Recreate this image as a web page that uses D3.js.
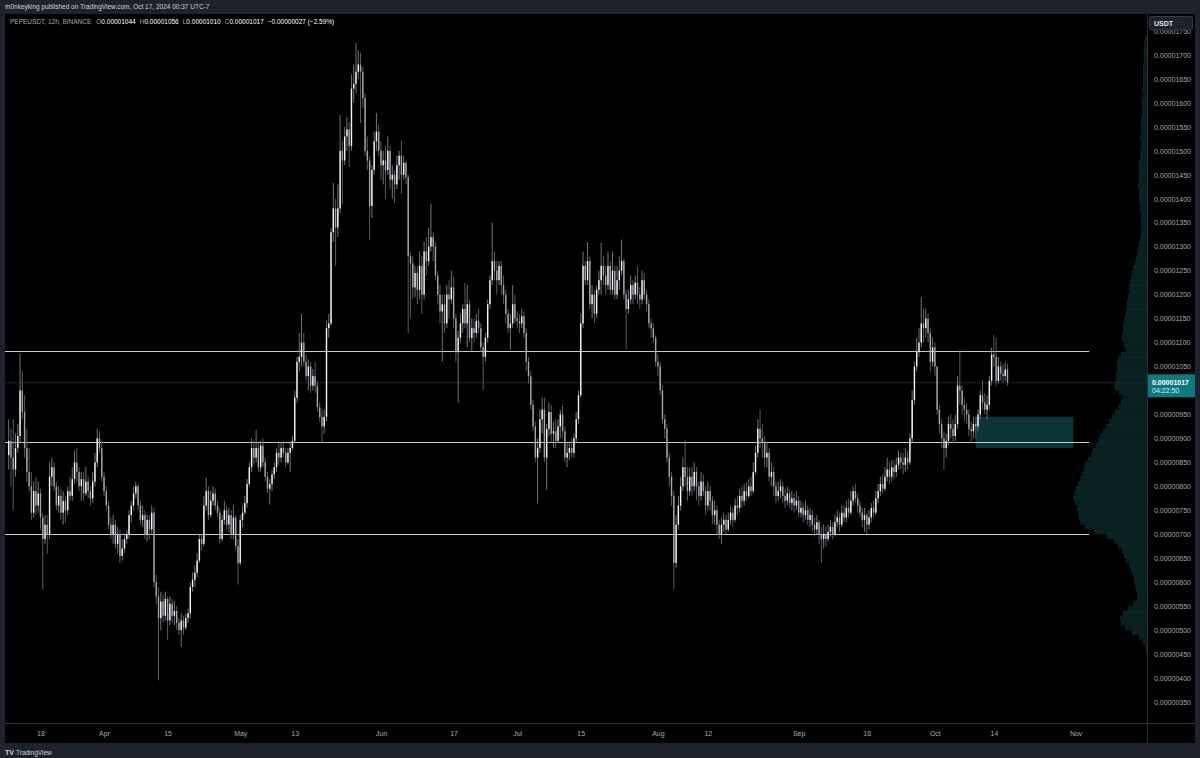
<!DOCTYPE html>
<html>
<head>
<meta charset="utf-8">
<script src="https://cdn.jsdelivr.net/npm/d3@7"></script>
<style>
body { margin: 0; background: #1e222d; }
svg { display: block; font-family: "Liberation Sans", Arial, sans-serif; }
</style>
</head>
<body>
<svg id="chart" width="1200" height="758"></svg>
<script>
// all prices in units of 1e-8 USDT, one candle every 12h starting 11 Mar 2024 00:00 UTC
const firstOpen = 865;
const closes = [
 895,860,835,880,905,1000,955,880,830,800, 745,790,760,785,735,690,720,700,820,840,
 800,760,780,745,770,750,790,780,815,850, 830,800,815,785,810,790,775,810,850,900,
 880,820,790,760,720,700,720,680,700,655, 670,690,700,740,760,785,800,760,730,740,
 700,730,710,745,600,570,525,560,530,565, 520,555,530,540,515,500,520,505,525,535,
 590,605,620,645,690,680,760,790,740,770, 785,760,745,690,730,750,720,740,700,735,
 675,640,730,745,765,805,840,880,860,880, 840,885,850,820,795,805,825,840,870,860,
 880,870,850,870,880,895,985,1060,1070,1100, 1060,1030,1050,1010,1030,1010,965,945,925,945,
 1130,1140,1330,1380,1340,1380,1500,1480,1530,1545, 1510,1630,1640,1665,1680,1665,1610,1500,1480,1385,
 1460,1520,1540,1500,1470,1480,1460,1500,1440,1450, 1430,1470,1490,1450,1475,1445,1280,1265,1215,1245,
 1210,1260,1200,1290,1270,1300,1320,1300,
 1240,1200,1165,1180,1140,1200,1190,1215,1150,1080, 1110,1140,1170,1140,1180,1110,1130,1120,1145,1130,
 1090,1070,1110,1180,1230,1270,1250,1230,1260,1220, 1200,1160,1130,1140,1180,1150,1145,
 1140,1155,1120,1060,1030,970,925,860,880,940, 960,860,920,955,910,915,895,925,950,915,
 860,870,880,870,900,940,990,1140,1260,1230, 1270,1180,1200,1160,1210,1230,
 1260,1240,1220,1260,1210,1250,1200,1230,1250,1270,
 1200,1170,1190,1220,1200,1225,1200,1190,1230,1200, 1180,1140,1130,1110,1060,1050,1000,940,920,860,
 820,780,640,720,760,800,840,820,790,820, 800,830,800,780,810,790,760,790,770,740,
 750,720,700,720,730,710,730,745,730,760, 755,780,770,790,780,800,790,830,870,920,
 900,890,860,870,820,830,800,780,790,800, 780,770,785,765,775,760,770,745,755,740,
 750,730,740,720,710,725,700,690,700,690, 705,715,700,725,735,720,745,735,755,745,
 770,790,775,760,745,730,740,720,735,755, 745,775,790,805,795,820,835,820,840,830,
 845,860,850,845,860,850,900,980,1050,1080, 1100,1140,1130,1150,1120,1060,1090,1050,960,930,
 900,880,895,930,920,905,930,1010,1000,970, 960,950,920,915,930,925,950,990,975,960,
 970,1020,1075,1070,1020,1050,1035,1030,1044,1017
];
const highs = [
 940,920,940,910,930,1078,1040,990,920,880, 830,810,820,810,795,745,740,740,850,860,
 850,810,800,795,790,780,800,820,840,875, 880,840,830,830,840,820,800,830,870,920,
 915,895,830,800,770,735,740,730,715,710, 690,700,710,750,770,800,810,805,770,760,
 750,740,740,760,755,615,590,580,575,580, 570,570,565,560,550,525,535,530,535,545,
 600,620,635,660,700,700,780,818,800,790, 800,795,770,755,740,770,760,755,750,760,
 740,690,740,760,780,815,850,900,895,918, 890,895,900,860,830,815,835,850,880,890,
 890,895,880,880,890,905,1000,1070,1120,1160, 1120,1075,1065,1060,1045,1060,1020,975,960,960,
 1145,1160,1340,1433,1400,1430,1575,1520,1550,1570, 1560,1660,1680,1725,1710,1705,1675,1620,1530,1490,
 1470,1540,1579,1555,1520,1500,1510,1530,1510,1470, 1460,1490,1500,1523,1490,1480,1450,1290,1280,1260,
 1260,1290,1280,1310,1320,1340,1390,1330,
 1310,1250,1220,1200,1200,1220,1230,1250,1240,1160, 1125,1160,1180,1225,1220,1190,1150,1150,1160,1170,
 1140,1100,1120,1190,1240,1350,1290,1270,1270,1270, 1240,1210,1170,1160,1220,1200,1165,
 1160,1170,1165,1130,1070,1040,980,935,900,960, 985,985,930,975,970,935,940,940,960,970,
 925,890,890,900,910,955,1000,1160,1290,1270, 1310,1280,1220,1210,1220,1250,
 1308,1280,1260,1290,1270,1290,1260,1260,1280,1315,
 1275,1210,1210,1240,1230,1240,1260,1215,1250,1245, 1210,1190,1150,1140,1115,1075,1060,1010,950,930,
 870,830,790,740,780,820,860,897,840,840, 840,850,840,810,830,825,800,810,800,780,
 770,760,730,735,745,740,745,760,755,775, 780,795,800,805,810,815,820,850,885,940,
 960,930,905,890,880,850,840,810,810,815, 810,795,800,795,790,785,790,780,770,765,
 770,760,755,750,735,740,730,715,720,715, 720,730,725,740,750,745,760,760,770,775,
 790,800,805,785,770,755,755,745,750,765, 770,790,805,820,825,840,860,850,855,855,
 860,875,870,870,880,875,910,1000,1060,1110, 1130,1195,1170,1170,1160,1130,1110,1100,1050,970,
 940,915,910,945,950,940,950,1030,1085,1010, 985,975,960,935,945,945,960,1000,1022,995,
 990,1030,1090,1116,1110,1070,1060,1055,1060,1056
];
const lows = [
 835,800,750,820,870,890,940,860,810,790, 730,735,740,745,710,585,680,660,690,800,
 790,750,745,730,720,725,740,770,770,805, 810,790,770,770,780,775,760,765,800,840,
 870,810,780,750,710,690,680,670,660,640, 645,660,680,690,725,750,775,750,720,715,
 690,685,690,700,590,555,395,500,515,520, 480,510,515,510,500,490,465,490,500,515,
 525,580,590,610,640,665,675,750,730,735, 760,750,735,680,685,720,710,705,690,690,
 665,595,635,715,740,755,800,830,845,850, 830,830,840,810,785,762,790,815,830,845,
 850,860,840,845,830,875,890,975,1040,1050, 1050,1020,1000,995,1000,995,955,935,890,910,
 935,1110,1135,1310,1260,1320,1370,1390,1470,1500, 1466,1500,1600,1620,1650,1558,1590,1490,1460,1314,
 1360,1450,1500,1490,1440,1430,1400,1450,1420,1400, 1391,1420,1440,1410,1440,1430,1120,1150,1190,1195,
 1180,1190,1160,1190,1240,1260,1290,1270,
 1230,1180,1140,1060,1120,1130,1150,1180,1130,1060, 975,1100,1120,1130,1090,1100,1080,1100,1110,1120,
 1080,1001,1060,1100,1170,1220,1230,1200,1220,1200, 1180,1140,1120,1085,1130,1140,1130,
 1120,1130,1110,1040,1015,960,915,850,765,870, 910,850,793,905,890,880,880,890,900,900,
 850,840,855,860,860,890,930,985,1130,1220, 1220,1170,1150,1140,1150,1200,
 1200,1220,1200,1210,1200,1200,1190,1190,1210,1240,
 1190,1085,1160,1180,1180,1190,1180,1170,1180,1190, 1165,1130,1110,1100,1050,1030,990,930,900,850,
 800,760,585,630,710,750,790,800,770,780, 780,790,770,760,770,780,740,750,750,720,
 720,700,690,680,705,700,705,720,715,725, 740,745,755,760,770,775,780,785,825,860,
 880,860,840,840,810,800,780,765,770,775, 765,755,760,755,750,745,750,735,735,725,
 730,720,715,705,695,700,680,640,670,675, 685,695,690,695,715,705,715,725,725,735,
 740,760,765,745,735,715,705,700,710,725, 735,740,765,780,785,790,810,805,810,815,
 820,835,835,825,830,835,845,890,970,1040, 1070,1090,1100,1110,1100,1040,1050,1030,950,910,
 880,835,860,885,900,890,895,920,970,950, 935,930,905,890,900,900,915,940,960,950,
 940,960,1010,1050,1010,1015,1020,1015,1020,1010
];
const startTime = Date.UTC(2024, 2, 11, 0);

// volume profile, one bin per 10 units, from 1730 down to 450
const profileTop = 1730;
const profileVol = [
 2,3,3,3,3,3,4,4,4,4, 4,5,4,5,5,5,5,6,6,6, 6,7,6,7,7,7,8,8,8,8,
 8,9,8,8,8,7,7,6,6,6, 6,6,7,8,9,10,11,12,14,15, 16,17,18,18,19,20,20,21,22,23,
 24,24,25,25,23,21,26,29,30,30, 31,31,32,32,28,24,26,29,32,35, 38,41,44,47,49,51,54,56,59,62,
 63,65,67,69,71,73,74,72,70,69, 68,67,62,53,40,33,29,25,23,21, 18,16,14,13,12,11,10,10,14,19,
 24,27,26,22,15,8,4,2,1
];

const levelPrices = [1083, 893, 700];
const zonePrices = [880, 945];
const zoneTimes = [Date.UTC(2024, 9, 10, 0), Date.UTC(2024, 9, 31, 12)];
const levelEnd = Date.UTC(2024, 10, 4, 0);
const lastPrice = 1017;

const priceTicks = [350,400,450,500,550,600,650,700,750,800,850,900,950,1000,1050,1100,
  1150,1200,1250,1300,1350,1400,1450,1500,1550,1600,1650,1700,1750];
const timeTicks = ['2024-03-18','2024-04-01','2024-04-15','2024-05-01','2024-05-13','2024-06-01',
  '2024-06-17','2024-07-01','2024-07-15','2024-08-01','2024-08-12','2024-09-01','2024-09-16',
  '2024-10-01','2024-10-14','2024-11-01'];
const timeLabels = ['18','Apr','15','May','13','Jun','17','Jul','15','Aug','12','Sep','16','Oct','14','Nov'];

const plot = {left: 5, right: 1147, top: 14, bottom: 723};

var x = d3.scaleUtc()
    .domain([new Date(startTime), new Date(Date.UTC(2024, 10, 1))])
    .range([8.7, 1075.6]);
var y = d3.scaleLinear()
    .domain([350, 1700])
    .range([702, 55]);

var candles = closes.map(function(c, i) {
    var o = i === 0 ? firstOpen : closes[i - 1];
    return {
        t: new Date(startTime + i * 12 * 3600 * 1000),
        o: o, c: c,
        h: Math.max(highs[i], o, c),
        l: Math.min(lows[i], o, c)
    };
});

var svg = d3.select('#chart');

svg.append('rect').attr('width', 1200).attr('height', 758).attr('fill', '#1e222d');
svg.append('rect')
    .attr('x', 5).attr('y', 14).attr('width', 1190).attr('height', 729)
    .attr('fill', '#000000');

svg.append('clipPath').attr('id', 'plotclip')
    .append('rect')
    .attr('x', plot.left).attr('y', plot.top)
    .attr('width', plot.right - plot.left).attr('height', plot.bottom - plot.top);

var g = svg.append('g').attr('clip-path', 'url(#plotclip)');

// volume profile on the right edge
var vx = d3.scaleLinear().domain([0, d3.max(profileVol)]).range([0, 74]);
var bins = profileVol.map(function(v, i) { return {p: profileTop - i * 10, v: v}; });
var prof = g.append('g');
prof.selectAll('rect')
    .data(bins)
    .join('rect')
    .attr('x', d => plot.right - vx(d.v))
    .attr('y', d => y(d.p + 10))
    .attr('width', d => vx(d.v))
    .attr('height', d => y(d.p) - y(d.p + 10))
    .attr('fill', '#08201f');
prof.selectAll('line')
    .data(bins)
    .join('line')
    .attr('x1', d => plot.right - vx(d.v)).attr('x2', plot.right)
    .attr('y1', d => y(d.p + 10) + 0.25).attr('y2', d => y(d.p + 10) + 0.25)
    .attr('stroke', '#0f3134').attr('stroke-width', 0.5);

// last price line
g.append('line')
    .attr('x1', plot.left).attr('x2', plot.right)
    .attr('y1', y(lastPrice) + 0.5).attr('y2', y(lastPrice) + 0.5)
    .attr('stroke', '#152a2d').attr('stroke-width', 1);

// zone
g.append('rect')
    .attr('x', x(new Date(zoneTimes[0])))
    .attr('y', y(zonePrices[1]))
    .attr('width', x(new Date(zoneTimes[1])) - x(new Date(zoneTimes[0])))
    .attr('height', y(zonePrices[0]) - y(zonePrices[1]))
    .attr('fill', '#0b3538');

// horizontal levels
g.append('g').selectAll('line')
    .data(levelPrices)
    .join('line')
    .attr('x1', plot.left).attr('x2', x(new Date(levelEnd)))
    .attr('y1', d => Math.round(y(d)) + 0.5).attr('y2', d => Math.round(y(d)) + 0.5)
    .attr('stroke', '#c6c8ce').attr('stroke-width', 1);

// candles
var cg = g.append('g');
cg.selectAll('line')
    .data(candles)
    .join('line')
    .attr('x1', d => x(d.t)).attr('x2', d => x(d.t))
    .attr('y1', d => y(d.h)).attr('y2', d => y(d.l))
    .attr('stroke', d => d.c >= d.o ? '#8d9097' : '#6f727a')
    .attr('stroke-width', 0.8);
cg.selectAll('rect')
    .data(candles)
    .join('rect')
    .attr('x', d => x(d.t) - 0.7)
    .attr('y', d => y(Math.max(d.o, d.c)))
    .attr('width', 1.4)
    .attr('height', d => Math.max(0.8, Math.abs(y(d.o) - y(d.c))))
    .attr('fill', d => d.c >= d.o ? '#f4f4f4' : '#a3a6ad');

// axis separators
svg.append('line')
    .attr('x1', plot.right + 0.5).attr('x2', plot.right + 0.5)
    .attr('y1', 14).attr('y2', 743)
    .attr('stroke', '#2a2e39');
svg.append('line')
    .attr('x1', 5).attr('x2', 1195)
    .attr('y1', plot.bottom + 0.5).attr('y2', plot.bottom + 0.5)
    .attr('stroke', '#2a2e39');

// price axis (labels hidden behind the last price badge are left out)
var shownTicks = priceTicks.filter(p => Math.abs(y(p) - (y(lastPrice) + 3.5)) > 13);
var yAxis = svg.append('g')
    .attr('transform', 'translate(' + (plot.right + 4) + ',0)')
    .call(d3.axisRight(y).tickValues(shownTicks).tickSize(0)
        .tickFormat(d => (d * 1e-8).toFixed(8)));
yAxis.select('.domain').remove();
yAxis.selectAll('text')
    .attr('fill', '#a6a9b1')
    .attr('font-size', 7)
    .attr('font-family', '"Liberation Sans", Arial, sans-serif');

// time axis
var xAxis = svg.append('g')
    .attr('transform', 'translate(0,' + (plot.bottom + 5) + ')')
    .call(d3.axisBottom(x)
        .tickValues(timeTicks.map(s => new Date(s + 'T00:00:00Z')))
        .tickSize(0)
        .tickFormat((d, i) => timeLabels[i]));
xAxis.select('.domain').remove();
xAxis.selectAll('text')
    .attr('fill', '#a6a9b1')
    .attr('font-size', 7)
    .attr('font-family', '"Liberation Sans", Arial, sans-serif');

// last price badge
svg.append('rect')
    .attr('x', plot.right + 1).attr('y', y(lastPrice) - 8)
    .attr('width', 47).attr('height', 23)
    .attr('fill', '#0f7a7e');
svg.append('text')
    .attr('x', plot.right + 5).attr('y', y(lastPrice) + 2.5)
    .attr('fill', '#ffffff').attr('font-size', 7).attr('font-weight', 'bold')
    .text((lastPrice * 1e-8).toFixed(8));
svg.append('text')
    .attr('x', plot.right + 5).attr('y', y(lastPrice) + 11)
    .attr('fill', '#d9eeee').attr('font-size', 7)
    .text('04:22:50');

// currency badge (sits over the top price label, as in the app)
svg.append('rect')
    .attr('x', 1149.5).attr('y', 16.5).attr('width', 43).attr('height', 13.5).attr('rx', 2)
    .attr('fill', '#1e222d').attr('stroke', '#363a45');
svg.append('text')
    .attr('x', 1154).attr('y', 25.5)
    .attr('fill', '#e0e3eb').attr('font-size', 7).attr('font-weight', 'bold')
    .text('USDT');

// header
svg.append('text')
    .attr('x', 5).attr('y', 9)
    .attr('fill', '#d1d4dc').attr('font-size', 6.5)
    .text('m0nkeyking published on TradingView.com, Oct 17, 2024 00:37 UTC-7');

var legend = svg.append('text')
    .attr('x', 10).attr('y', 24)
    .attr('font-size', 6.5);
legend.append('tspan').attr('fill', '#a6a9b1').text('PEPEUSDT, 12h, BINANCE');
var ohlc = [['O', '0.00001044'], ['H', '0.00001056'], ['L', '0.00001010'], ['C', '0.00001017']];
ohlc.forEach(function(p, i) {
    legend.append('tspan').attr('dx', i === 0 ? 5 : 4).attr('fill', '#a6a9b1').text(p[0]);
    legend.append('tspan').attr('fill', '#ffffff').text(p[1]);
});
legend.append('tspan').attr('dx', 4).attr('fill', '#ffffff').text('\u22120.00000027 (\u22122.59%)');

// footer
svg.append('text')
    .attr('x', 5).attr('y', 755)
    .attr('fill', '#d1d4dc').attr('font-size', 7).attr('font-weight', 'bold')
    .text('TV');
svg.append('text')
    .attr('x', 16).attr('y', 755)
    .attr('fill', '#d1d4dc').attr('font-size', 6.5)
    .text('TradingView');
</script>
</body>
</html>
